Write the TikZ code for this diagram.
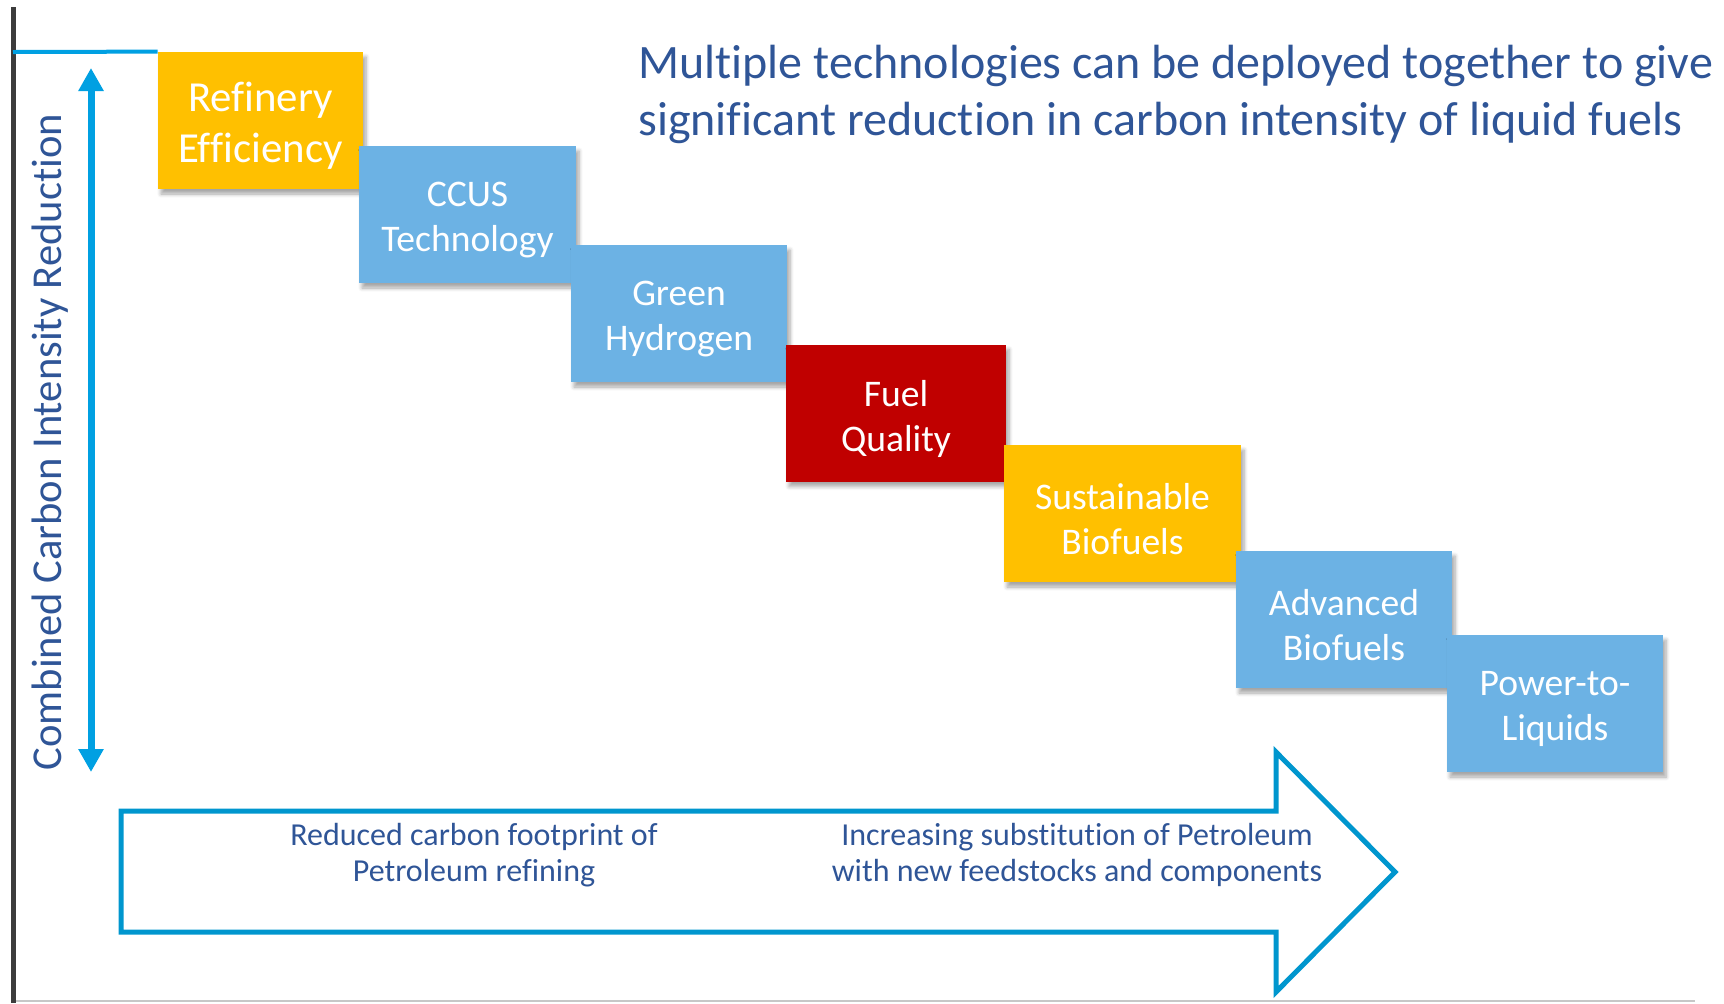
\documentclass[tikz,border=0pt]{standalone}
\usepackage{fontspec}
\setmainfont{Carlito}[Ligatures=NoCommon]
\usetikzlibrary{arrows.meta,shadows.blur}

\definecolor{ciGold}{RGB}{255,192,0}
\definecolor{ciSky}{RGB}{108,178,228}
\definecolor{ciRed}{RGB}{192,0,0}
\definecolor{ciCyan}{RGB}{0,160,226}
\definecolor{ciArrow}{RGB}{0,150,206}
\definecolor{ciNavy}{RGB}{47,85,151}
\definecolor{ciAxis}{RGB}{60,60,60}

\tikzset{
  techbox/.style={rectangle, inner sep=0pt, minimum height=68.5pt,
    blur shadow={shadow xshift=1.5pt, shadow yshift=-2.5pt, shadow blur steps=6, shadow opacity=35}},
  boxtext/.style={align=center, inner sep=0pt, text=white, yshift=-2.75pt,
    font=\fontsize{18.8}{22.5}\selectfont},
  bigtext/.style={boxtext, font=\fontsize{21.4}{25.3}\selectfont},
  note/.style={text=ciNavy, align=center, inner sep=0pt, font=\fontsize{16}{18.3}\selectfont},
}

\begin{document}
\begin{tikzpicture}[x=0.5pt,y=0.5pt,yscale=-1,xscale=1]
\useasboundingbox (0,0) rectangle (1724,1003);

% axis and base line
\draw[ciAxis, line width=2.5pt] (13,7) -- (13,1003);
\draw[black!22, line width=0.8pt] (16,1001) -- (1695,1001);

% technology steps
\node[techbox, fill=ciGold, minimum width=102.5pt, label={[bigtext]center:Refinery\\Efficiency}] (refinery) at (260.5,120.5) {};
\node[techbox, fill=ciSky, minimum width=108.5pt, label={[boxtext]center:CCUS\\Technology}] (ccus) at (467.5,214.5) {};
\node[techbox, fill=ciSky, minimum width=108pt, label={[boxtext]center:Green\\Hydrogen}] (hydrogen) at (679,313.5) {};
\node[techbox, fill=ciRed, minimum width=110pt, label={[boxtext]center:Fuel\\Quality}] (fuel) at (896,413) {};
\node[techbox, fill=ciGold, minimum width=118.5pt, label={[boxtext]center:Sustainable\\Biofuels}] (sustain) at (1122.5,513.5) {};
\node[techbox, fill=ciSky, minimum width=108pt, label={[boxtext]center:Advanced\\Biofuels}] (advanced) at (1344,619.5) {};
\node[techbox, fill=ciSky, minimum width=108pt, label={[boxtext]center:Power-to-\\Liquids}] (ptl) at (1555,703.5) {};

% top marker line
\coordinate (ciMark) at (13,52);
\draw[ciCyan, line width=2pt] (ciMark) -- (refinery.north west);

% combined reduction arrow
\coordinate (ciTop) at (91,68);
\coordinate (ciBot) at (91,772);
\draw[ciCyan, line width=3.5pt, {Triangle[width=12pt,length=11.5pt]}-{Triangle[width=12pt,length=11.5pt]}] (ciTop) -- (ciBot);
\node[rotate=90, text=ciNavy, inner sep=0pt, font=\fontsize{21.3}{25}\selectfont] (ciLabel) at (50,442) {Combined Carbon Intensity Reduction};

% big outline arrow
\draw[ciArrow, line width=2.5pt, line join=miter] (121,811) -- (1276,811) -- (1276,752) -- (1395,872)
  -- (1276,992) -- (1276,932) -- (121,932) -- cycle;
\node[note] (refining) at (474,855) {Reduced carbon footprint of\\Petroleum refining};
\node[note] (substitute) at (1077,855) {Increasing substitution of Petroleum\\with new feedstocks and components};

% title
\node[anchor=west, align=left, inner sep=0pt, text=ciNavy, font=\fontsize{24}{28.5}\selectfont] (title) at (638,94)
  {Multiple technologies can be deployed together to give\\significant reduction in carbon intensity of liquid fuels};

\end{tikzpicture}
\end{document}
